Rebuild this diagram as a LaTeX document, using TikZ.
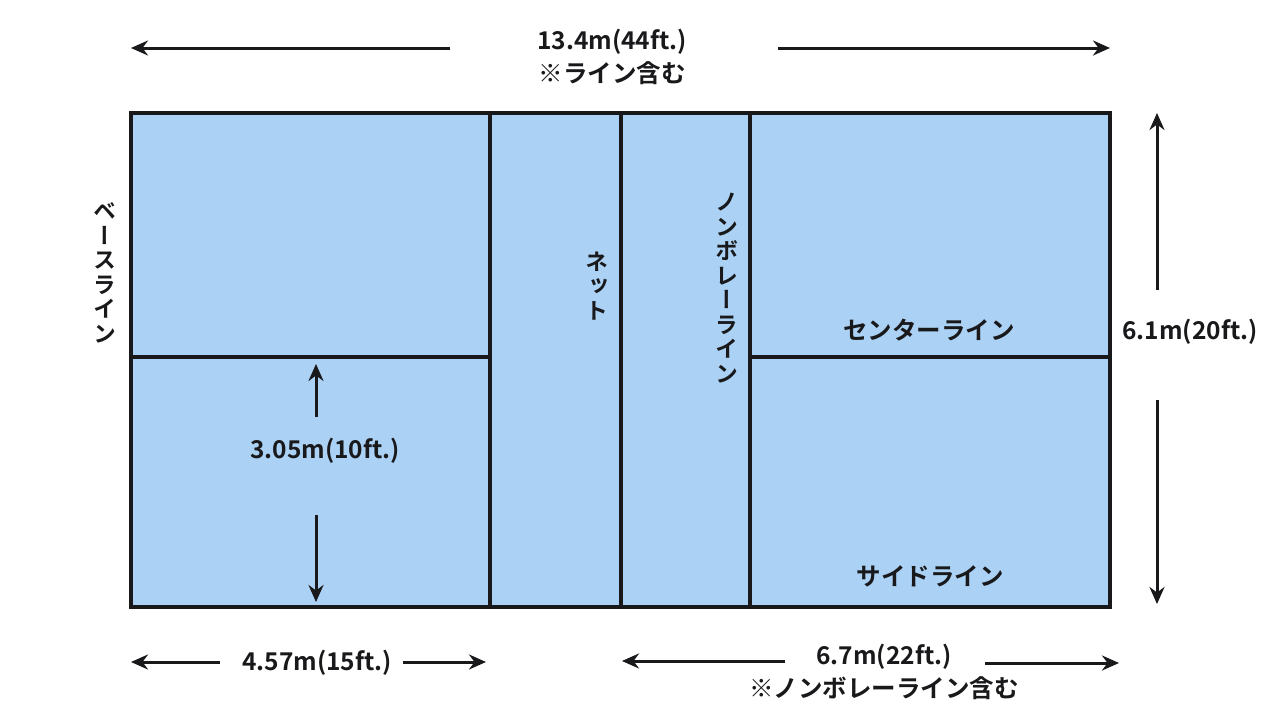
\documentclass[tikz,border=0pt]{standalone}
\usepackage{fontspec}
\setmainfont{Noto Sans CJK JP}[BoldFont={Noto Sans CJK JP Bold}]
\newfontfamily\vjp{Noto Sans CJK JP Bold}[RawFeature={+vert}]
\usetikzlibrary{arrows.meta}
\definecolor{courtblue}{RGB}{171,210,245}
\definecolor{linedark}{RGB}{25,25,28}
\tikzset{
  courtline/.style={draw=linedark,line width=4pt},
  dimarrow/.style={draw=linedark,line width=3pt,-{Stealth[length=17pt,width=15pt]}},
  lbl/.style={font=\fontsize{24.5}{28}\selectfont\bfseries,text=linedark,inner sep=0pt},
  lbltwo/.style={font=\fontsize{24.5}{33}\selectfont\bfseries,text=linedark,inner sep=0pt,align=center},
  vlbl/.style={font=\fontsize{23}{24.5}\selectfont\vjp,text=linedark,align=center,inner sep=0pt},
}
\begin{document}
\begin{tikzpicture}[x=1pt,y=-1pt]
\useasboundingbox (0,0) rectangle (1280,720);
% court
\fill[courtblue] (131,113) rectangle (1110,607);
\coordinate (tl) at (131,113);
\coordinate (br) at (1110,607);
\draw[courtline] (490,113) -- (490,607);
\draw[courtline] (621,113) -- (621,607);
\draw[courtline] (750,113) -- (750,607);
\draw[courtline] (131,357) -- (490,357);
\draw[courtline] (750,357) -- (1110,357);
\draw[courtline] (tl) rectangle (br);
% top dimension
\node[lbltwo] (top) at (612,57) {13.4m(44ft.)\\※ライン含む};
\coordinate (t1) at (450,48); \coordinate (t1e) at (131,48);
\coordinate (t2) at (778,48); \coordinate (t2e) at (1110,48);
\draw[dimarrow] (t1) -- (t1e);
\draw[dimarrow] (t2) -- (t2e);
% right dimension
\node[lbl] (rt) at (1190,332) {6.1m(20ft.)};
\coordinate (r1) at (1157,290); \coordinate (r1e) at (1157,113);
\coordinate (r2) at (1157,400); \coordinate (r2e) at (1157,604);
\draw[dimarrow] (r1) -- (r1e);
\draw[dimarrow] (r2) -- (r2e);
% inner dimension
\node[lbl] (in) at (325,451) {3.05m(10ft.)};
\coordinate (i1) at (316,417); \coordinate (i1e) at (316,364);
\coordinate (i2) at (316,515); \coordinate (i2e) at (316,602);
\draw[dimarrow] (i1) -- (i1e);
\draw[dimarrow] (i2) -- (i2e);
% bottom left
\node[lbl] (bl) at (317,663) {4.57m(15ft.)};
\coordinate (b1) at (220,662); \coordinate (b1e) at (131,662);
\coordinate (b2) at (403,662); \coordinate (b2e) at (486,662);
\draw[dimarrow] (b1) -- (b1e);
\draw[dimarrow] (b2) -- (b2e);
% bottom right
\node[lbltwo] (brl) at (884,672) {6.7m(22ft.)\\※ノンボレーライン含む};
\coordinate (c1) at (785,661); \coordinate (c1e) at (622,661);
\coordinate (c2) at (985,663); \coordinate (c2e) at (1119,663);
\draw[dimarrow] (c1) -- (c1e);
\draw[dimarrow] (c2) -- (c2e);
% vertical labels
\node[vlbl] (base) at (105,273) {ベ\\ー\\ス\\ラ\\イ\\ン};
\node[vlbl] (net) at (597,286) {ネ\\ッ\\ト};
\node[vlbl] (nvz) at (727,288) {ノ\\ン\\ボ\\レ\\ー\\ラ\\イ\\ン};
% horizontal labels
\node[lbl] (center) at (929,330) {センターライン};
\node[lbl] (side) at (930,576) {サイドライン};
\end{tikzpicture}
\end{document}
